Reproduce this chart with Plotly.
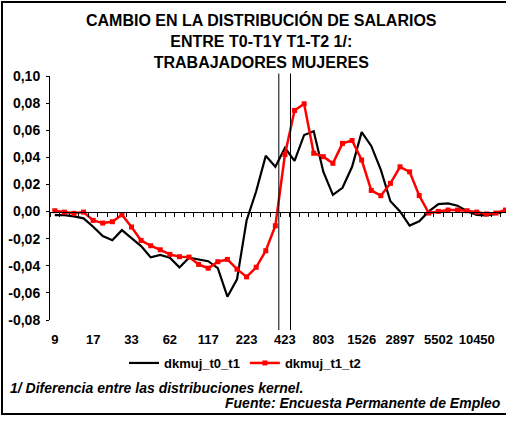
import plotly.graph_objects as go

# ---------------- data ----------------
TICK_LABELS = ["9", "17", "33", "62", "117", "223", "423", "803",
               "1526", "2897", "5502", "10450"]
LABEL_EVERY = 4

DKMUJ_T0_T1 = [-0.0026, -0.0027, -0.0035, -0.0050, -0.0112, -0.0180, -0.0212, -0.0137,
               -0.0196, -0.0255, -0.0338, -0.0320, -0.0341, -0.0412, -0.0340, -0.0355,
               -0.0366, -0.0418, -0.0628, -0.0500, -0.0066, 0.0150, 0.0411, 0.0331,
               0.0470, 0.0374, 0.0565, 0.0593, 0.0294, 0.0123, 0.0175, 0.0330,
               0.0586, 0.0484, 0.0307, 0.0076, 0.0001, -0.0103, -0.0072, 0.0001,
               0.0055, 0.0060, 0.0043, 0.0003, -0.0024, -0.0028, -0.0018, 0.0005]

DKMUJ_T1_T2 = [0.0006, -0.0004, -0.0013, -0.0004, -0.0065, -0.0085, -0.0075, -0.0024,
               -0.0114, -0.0213, -0.0252, -0.0282, -0.0316, -0.0333, -0.0336, -0.0390,
               -0.0418, -0.0370, -0.0353, -0.0425, -0.0482, -0.0411, -0.0289, -0.0105,
               0.0421, 0.0746, 0.0795, 0.0430, 0.0405, 0.0356, 0.0503, 0.0524,
               0.0380, 0.0156, 0.0117, 0.0208, 0.0330, 0.0293, 0.0118, -0.0011,
               0.0001, 0.0011, 0.0011, 0.0006, -0.0004, -0.0018, -0.0011, 0.0011]

SERIES_NAMES = ["dkmuj_t0_t1", "dkmuj_t1_t2"]
Y_TICKS = [0.10, 0.08, 0.06, 0.04, 0.02, 0.00, -0.02, -0.04, -0.06, -0.08]
VLINE_X = [23.36, 24.58]   # reference lines, in category-index units

TITLE = "CAMBIO EN LA DISTRIBUCIÓN DE SALARIOS<br>ENTRE T0-T1Y T1-T2 1/:<br>TRABAJADORES MUJERES"
NOTE = "1/ Diferencia entre las distribuciones kernel."
SOURCE = "Fuente: Encuesta Permanente de Empleo"

# ---------------- layout geometry ----------------
W, H = 506, 421
ML, MR, MT, MB = 50, 0, 76, 101
PW, PH = W - ML - MR, H - MT - MB
Y_RANGE = [-0.08, 0.10]
n = len(DKMUJ_T1_T2)
X_RANGE = [-0.5, n - 0.95]


def px_x(px):
    return (px - ML) / PW


def px_y(py):
    return (H - MB - py) / PH


FONT = "Liberation Sans, Arial, sans-serif"
xs = list(range(n))

fig = go.Figure()
fig.add_trace(go.Scatter(
    x=xs, y=DKMUJ_T0_T1, name=SERIES_NAMES[0], mode="lines",
    line=dict(color="black", width=2.2), xaxis="x", yaxis="y"))
fig.add_trace(go.Scatter(
    x=xs, y=DKMUJ_T1_T2, name=SERIES_NAMES[1], mode="lines+markers",
    line=dict(color="#ff0000", width=2.5),
    marker=dict(symbol="square", size=5, color="#ff0000"),
    cliponaxis=False, xaxis="x2", yaxis="y"))

label_vals = [i * LABEL_EVERY for i in range(len(TICK_LABELS))]
boundaries = [i - 0.5 for i in range(n + 1)]
zero_pos = (0 - Y_RANGE[0]) / (Y_RANGE[1] - Y_RANGE[0])

fig.update_layout(
    width=W, height=H,
    margin=dict(l=ML, r=MR, t=MT, b=MB, pad=0),
    paper_bgcolor="white", plot_bgcolor="white",
    font=dict(family=FONT, color="black", size=13, weight="bold"),
    showlegend=True,
    legend=dict(orientation="h", x=px_x(245), y=px_y(363), xanchor="center",
                yanchor="middle", itemwidth=30, font=dict(size=13, weight="bold"),
                bgcolor="rgba(0,0,0,0)", tracegroupgap=0),
    xaxis=dict(range=X_RANGE, showgrid=False, zeroline=False, showline=False,
               tickmode="array", tickvals=label_vals, ticktext=TICK_LABELS,
               ticks="outside", ticklen=7, tickcolor="rgba(0,0,0,0)",
               tickfont=dict(size=13, weight="bold"), tickangle=0),
    xaxis2=dict(matches="x", overlaying="x", anchor="free", position=zero_pos,
                showgrid=False, zeroline=False, showline=True, linecolor="black",
                linewidth=1, tickmode="array", tickvals=boundaries, ticks="outside",
                ticklen=4, tickcolor="black", tickwidth=1, showticklabels=False),
    yaxis=dict(range=Y_RANGE, showgrid=False, zeroline=False, showline=True,
               linecolor="black", linewidth=1, ticks="outside", ticklen=3,
               tickcolor="black", tickmode="array", tickvals=Y_TICKS,
               ticktext=[f"{v:.2f}".replace(".", ",") for v in Y_TICKS],
               ticklabelstandoff=3,
               tickfont=dict(size=14, weight="bold")),
)

# vertical reference lines
for vx in VLINE_X:
    fig.add_shape(type="line", xref="x", yref="paper", x0=vx, x1=vx,
                  y0=px_y(330), y1=px_y(73.5), line=dict(color="black", width=1))

fig.add_annotation(text=TITLE, xref="paper", yref="paper", x=px_x(261), y=px_y(40.5),
                   xanchor="center", yanchor="middle", showarrow=False,
                   font=dict(size=16, weight="bold"))
fig.add_annotation(text="<i>" + NOTE + "</i>", xref="paper", yref="paper",
                   x=px_x(8), y=px_y(388), xanchor="left", yanchor="middle",
                   showarrow=False, font=dict(size=14, weight="bold"))
fig.add_annotation(text="<i>" + SOURCE + "</i>", xref="paper", yref="paper",
                   x=px_x(503), y=px_y(403), xanchor="right", yanchor="middle",
                   showarrow=False, font=dict(size=14, weight="bold"))

# page tweaks: no body margin, and the chart-area frame (its right side is
# cut off in the reference picture)
POST = """
document.body.style.margin='0';
document.body.style.overflow='hidden';
var f=document.createElement('div');
f.style.cssText='position:absolute;left:1px;top:1px;width:540px;height:414px;'+
  'border:2px solid black;pointer-events:none;box-sizing:border-box;';
document.body.appendChild(f);
"""

fig.write_html("out.html", config={"displayModeBar": False}, post_script=POST)
